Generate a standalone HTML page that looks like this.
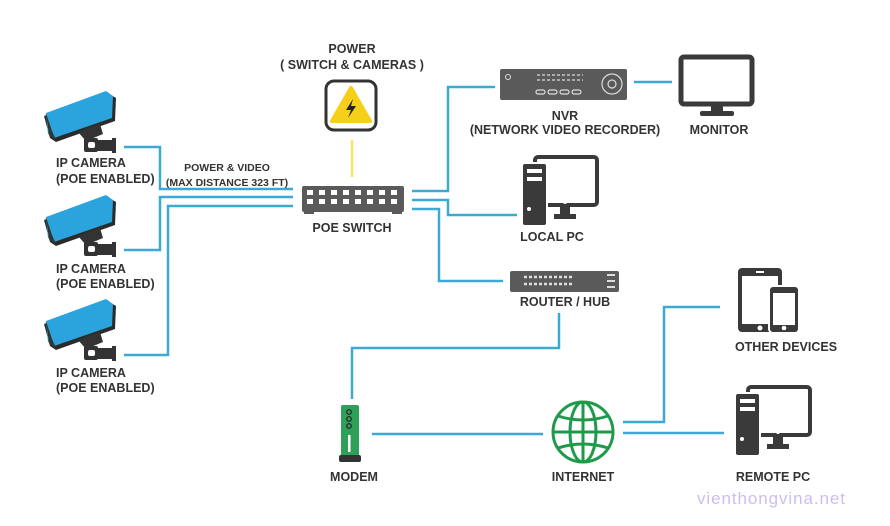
<!DOCTYPE html>
<html><head><meta charset="utf-8"><style>
html,body{margin:0;padding:0;background:#fff;}
svg{display:block;}
text{font-family:"Liberation Sans Narrow","Liberation Sans",sans-serif;font-weight:bold;fill:#333;}
</style></head><body>
<svg width="890" height="526" viewBox="0 0 890 526" xmlns="http://www.w3.org/2000/svg">
<defs>
<g id="cam">
  <polygon points="44,116 106,92 116,98 115,121 56,142 50,138" fill="#2b2b2b"/>
  <polygon points="46,113 106,91 113,96 112,118 54,138 48,134" fill="#2ba3dc"/>
  <polygon points="46,113 52,131 56,140 49,135" fill="#333"/>
  <polygon points="78,132 100,124 103,134 86,141" fill="#333"/>
  <rect x="84" y="138" width="14" height="14" rx="2" fill="#333"/>
  <rect x="94" y="140" width="20" height="11" fill="#333"/>
  <rect x="112" y="138" width="4" height="15" fill="#333"/>
  <rect x="88" y="142" width="7" height="6" rx="2" fill="#fff"/>
</g>
</defs>
<g fill="none" stroke="#3ba9d2" stroke-width="2.5">
  <polyline points="124,147 160,147 160,189 293,189"/>
  <polyline points="124,250 160,250 160,197 293,197"/>
  <polyline points="124,355 168,355 168,206 293,206"/>
  <polyline points="412,191 448,191 448,87 495,87"/>
  <polyline points="412,200 448,200 448,215 517,215"/>
  <polyline points="412,209 439,209 439,281 503,281"/>
  <line x1="634" y1="82" x2="672" y2="82"/>
  <polyline points="559,313 559,348 352,348 352,399"/>
  <line x1="372" y1="434" x2="543" y2="434"/>
  <polyline points="623,422 664,422 664,307 720,307"/>
  <line x1="623" y1="433" x2="724" y2="433"/>
</g>
<line x1="352" y1="140" x2="352" y2="177" stroke="#f5e36a" stroke-width="2.5"/>
<use href="#cam"/>
<use href="#cam" y="104"/>
<use href="#cam" y="208"/>
<text x="56" y="167" font-size="12.5">IP CAMERA</text>
<text x="56" y="183" font-size="12.5">(POE ENABLED)</text>
<text x="56" y="273" font-size="12.5">IP CAMERA</text>
<text x="56" y="288" font-size="12.5">(POE ENABLED)</text>
<text x="56" y="377" font-size="12.5">IP CAMERA</text>
<text x="56" y="392" font-size="12.5">(POE ENABLED)</text>
<text x="227" y="171" font-size="10.5" text-anchor="middle">POWER &amp; VIDEO</text>
<text x="227" y="186" font-size="10.5" text-anchor="middle">(MAX DISTANCE 323 FT)</text>
<!-- power -->
<text x="352" y="53" font-size="12.5" text-anchor="middle">POWER</text>
<text x="352" y="69" font-size="12.5" text-anchor="middle">( SWITCH &amp; CAMERAS )</text>
<rect x="326" y="81" width="50" height="49" rx="8" fill="#fff" stroke="#333" stroke-width="3"/>
<polygon points="351,88 370,121 332,121" fill="#f6d018" stroke="#f6d018" stroke-width="4" stroke-linejoin="round"/>
<polygon points="353,99 346,110 351,110 348,118 356,106 351,106" fill="#222"/>
<!-- switch -->
<rect x="302" y="186" width="102" height="26" rx="2" fill="#5a5a5a"/>
<rect x="304" y="211" width="10" height="3" fill="#5a5a5a"/><rect x="392" y="211" width="10" height="3" fill="#5a5a5a"/>
<g fill="#fff">
<rect x="307" y="190" width="6" height="5"/><rect x="319" y="190" width="6" height="5"/><rect x="331" y="190" width="6" height="5"/><rect x="343" y="190" width="6" height="5"/><rect x="355" y="190" width="6" height="5"/><rect x="367" y="190" width="6" height="5"/><rect x="379" y="190" width="6" height="5"/><rect x="391" y="190" width="6" height="5"/>
<rect x="307" y="199" width="6" height="5"/><rect x="319" y="199" width="6" height="5"/><rect x="331" y="199" width="6" height="5"/><rect x="343" y="199" width="6" height="5"/><rect x="355" y="199" width="6" height="5"/><rect x="367" y="199" width="6" height="5"/><rect x="379" y="199" width="6" height="5"/><rect x="391" y="199" width="6" height="5"/>
</g>
<text x="352" y="232" font-size="12.5" text-anchor="middle">POE SWITCH</text>
<!-- NVR -->
<rect x="500" y="69" width="127" height="31" rx="2" fill="#5a5a5a"/>
<circle cx="508" cy="77" r="2.5" fill="none" stroke="#ddd" stroke-width="1"/>
<g fill="none" stroke="#ddd" stroke-width="1.2">
<path d="M537,75 h46 M537,80 h46" stroke-dasharray="3,2"/>
<rect x="536" y="90" width="9" height="4" rx="2"/><rect x="548" y="90" width="9" height="4" rx="2"/><rect x="560" y="90" width="9" height="4" rx="2"/><rect x="572" y="90" width="9" height="4" rx="2"/>
<circle cx="612" cy="84" r="10"/><circle cx="612" cy="84" r="4"/>
</g>
<text x="565" y="120" font-size="12.5" text-anchor="middle">NVR</text>
<text x="565" y="134" font-size="12.5" text-anchor="middle">(NETWORK VIDEO RECORDER)</text>
<!-- monitor -->
<rect x="681" y="57" width="71" height="47" rx="3" fill="#fff" stroke="#3a3a3a" stroke-width="5"/>
<rect x="711" y="104" width="12" height="8" fill="#3a3a3a"/>
<rect x="700" y="111" width="34" height="5" rx="2" fill="#3a3a3a"/>
<text x="719" y="134" font-size="12.5" text-anchor="middle">MONITOR</text>
<!-- local PC -->
<g id="pc">
<rect x="535" y="157" width="62" height="48" rx="3" fill="#fff" stroke="#3a3a3a" stroke-width="4"/>
<rect x="560" y="205" width="10" height="10" fill="#3a3a3a"/>
<rect x="554" y="214" width="22" height="5" fill="#3a3a3a"/>
<circle cx="565" cy="202" r="2" fill="#fff"/>
<rect x="521" y="162" width="27" height="64" rx="3" fill="#fff"/>
<rect x="523" y="164" width="23" height="61" rx="2" fill="#3a3a3a"/>
<rect x="527" y="169" width="15" height="4" fill="#fff"/><rect x="527" y="177" width="15" height="4" fill="#fff"/>
<circle cx="529" cy="209" r="2" fill="#fff"/>
</g>
<text x="552" y="241" font-size="12.5" text-anchor="middle">LOCAL PC</text>
<!-- router -->
<rect x="510" y="271" width="109" height="21" rx="2" fill="#5a5a5a"/>
<path d="M524,277 h48 M524,284 h48" stroke="#ddd" stroke-width="2.5" stroke-dasharray="3,2"/>
<path d="M607,275 h8 M607,281 h8 M607,287 h8" stroke="#ddd" stroke-width="2"/>
<text x="565" y="306" font-size="12.5" text-anchor="middle">ROUTER / HUB</text>
<!-- modem -->
<rect x="341" y="405" width="18" height="52" rx="2" fill="#2fa05a"/>
<rect x="339" y="455" width="22" height="7" rx="2" fill="#333"/>
<circle cx="349" cy="412" r="2.3" fill="none" stroke="#222" stroke-width="1.2"/>
<circle cx="349" cy="419" r="2.3" fill="none" stroke="#222" stroke-width="1.2"/>
<circle cx="349" cy="426" r="2.3" fill="none" stroke="#222" stroke-width="1.2"/>
<rect x="348" y="435" width="2.5" height="17" fill="#fff"/>
<text x="354" y="481" font-size="12.5" text-anchor="middle">MODEM</text>
<!-- globe -->
<g fill="none" stroke="#1e9a4a" stroke-width="3">
<circle cx="583" cy="432" r="30"/>
<ellipse cx="583" cy="432" rx="13" ry="30"/>
<line x1="583" y1="402" x2="583" y2="462"/>
<line x1="553" y1="432" x2="613" y2="432"/>
<path d="M558,416 Q583,424 608,416 M558,448 Q583,440 608,448"/>
</g>
<text x="583" y="481" font-size="12.5" text-anchor="middle">INTERNET</text>
<!-- other devices -->
<rect x="738" y="268" width="44" height="64" rx="4" fill="#3a3a3a"/>
<rect x="742" y="276" width="36" height="48" fill="#fff"/>
<rect x="756" y="271" width="8" height="2" fill="#fff"/>
<circle cx="760" cy="328" r="2.5" fill="#fff"/>
<rect x="768" y="285" width="32" height="48" rx="4" fill="#fff"/>
<rect x="770" y="287" width="28" height="45" rx="3" fill="#3a3a3a"/>
<rect x="773" y="293" width="22" height="32" fill="#fff"/>
<circle cx="784" cy="328" r="2.3" fill="#fff"/>
<text x="786" y="351" font-size="12.5" text-anchor="middle">OTHER DEVICES</text>
<!-- remote pc -->
<use href="#pc" transform="translate(213,230)"/>
<text x="773" y="481" font-size="12.5" text-anchor="middle">REMOTE PC</text>
<text x="697" y="504" font-size="17" style="font-family:'Liberation Sans',sans-serif;font-weight:normal;fill:#cbbef0" textLength="148">vienthongvina.net</text>
</svg>
</body></html>
